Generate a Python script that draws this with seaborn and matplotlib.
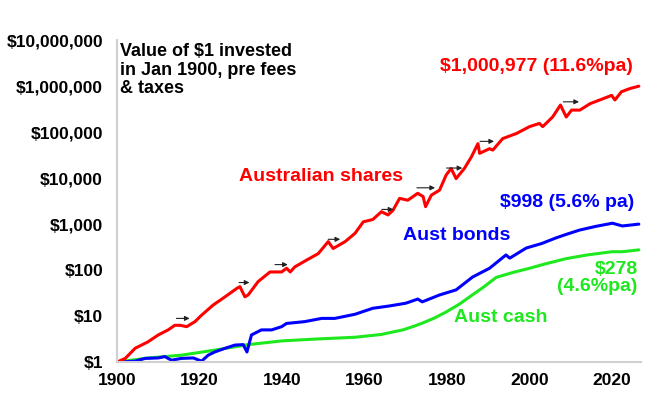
import numpy as np
import pandas as pd
import matplotlib
matplotlib.use('Agg')
import matplotlib.pyplot as plt
import matplotlib.ticker as mticker
import seaborn as sns

# Growth of $1 invested in Jan 1900 (log10 of $)
share_years = [1900, 1902, 1904.4, 1907.5, 1910, 1912.4, 1914, 1915.3, 1916.9, 1918.9,
               1920.5, 1923.3, 1926.2, 1929, 1929.8, 1931, 1931.8, 1934.2, 1937.1, 1939.9,
               1941.1, 1942, 1943.1, 1946, 1948.8, 1951.2, 1952.4, 1955.3, 1957.7, 1959.7,
               1962, 1964.1, 1965.7, 1966.9, 1968.5, 1970.5, 1972.9, 1974.2, 1974.8, 1976.2,
               1978.2, 1979.8, 1981, 1982.2, 1984.2, 1985.9, 1987.5, 1987.9, 1990.3, 1991.1,
               1993.5, 1996.8, 2000, 2002.4, 2003.2, 2005.6, 2007.5, 2008.9, 2010.2, 2012.2,
               2014.7, 2017.9, 2019.9, 2020.7, 2022.3, 2024.4, 2026.5]
share_log = [0.0, 0.08, 0.30, 0.44, 0.59, 0.70, 0.80, 0.80, 0.77, 0.88,
             1.02, 1.24, 1.42, 1.60, 1.64, 1.42, 1.46, 1.75, 1.96, 1.96,
             2.04, 1.96, 2.07, 2.22, 2.36, 2.62, 2.47, 2.62, 2.80, 3.05,
             3.10, 3.27, 3.20, 3.30, 3.56, 3.52, 3.67, 3.60, 3.38, 3.63,
             3.74, 4.07, 4.21, 3.99, 4.21, 4.46, 4.75, 4.54, 4.64, 4.61,
             4.86, 4.97, 5.12, 5.19, 5.12, 5.33, 5.59, 5.33, 5.48, 5.48,
             5.62, 5.73, 5.80, 5.70, 5.88, 5.95, 6.00]

bond_years = [1900, 1904.4, 1906.8, 1910, 1911.6, 1913.2, 1915.6, 1918.5, 1920.5, 1922.1,
              1923.7, 1926.2, 1928.6, 1930.6, 1931.5, 1932.6, 1935, 1937.5, 1939.9, 1941.1,
              1945.5, 1949.6, 1952.8, 1957.7, 1962, 1966, 1970, 1972.9, 1974, 1978.2,
              1982.2, 1986.2, 1990.3, 1994.3, 1995.2, 1999.2, 2003, 2006.4, 2009, 2012.1,
              2016, 2020.1, 2022.5, 2026.5]
bond_log = [0.0, 0.02, 0.08, 0.09, 0.12, 0.04, 0.08, 0.09, 0.02, 0.15,
            0.22, 0.30, 0.37, 0.38, 0.22, 0.59, 0.70, 0.70, 0.77, 0.84,
            0.88, 0.95, 0.95, 1.04, 1.17, 1.22, 1.28, 1.37, 1.31, 1.46,
            1.57, 1.85, 2.04, 2.33, 2.26, 2.48, 2.58, 2.70, 2.78, 2.87,
            2.95, 3.02, 2.96, 3.00]

cash_years = [1900, 1907.6, 1915.6, 1923.7, 1931.8, 1939.9, 1948, 1957.7, 1964, 1969.3,
              1972, 1974.1, 1977, 1979.8, 1983, 1985.5, 1989, 1991.9, 1996, 2000,
              2004, 2008.9, 2014, 2020, 2022.5, 2026.5]
cash_log = [0.0, 0.09, 0.15, 0.26, 0.38, 0.46, 0.50, 0.54, 0.60, 0.70,
            0.78, 0.85, 0.96, 1.09, 1.26, 1.42, 1.64, 1.84, 1.95, 2.04,
            2.14, 2.25, 2.33, 2.40, 2.40, 2.44]

# little arrows along the shares line: start year, end year, log10 level
arrow_start = [1914.4, 1929.6, 1938.3, 1951.2, 1964.2, 1972.7, 1979.9, 1988.0, 2008.2]
arrow_end = [1917.6, 1932.1, 1941.4, 1954.1, 1967.0, 1977.1, 1983.7, 1991.4, 2012.0]
arrow_level = [0.95, 1.73, 2.12, 2.67, 3.32, 3.79, 4.22, 4.80, 5.66]

y_ticks = [1, 10, 100, 1000, 10000, 100000, 1000000, 10000000]
x_ticks = [1900, 1920, 1940, 1960, 1980, 2000, 2020]

RED = '#ff0000'
BLUE = '#0000ff'
GREEN = '#1ee81e'

shares = pd.DataFrame({'year': share_years, 'value': np.power(10, share_log)})
bonds = pd.DataFrame({'year': bond_years, 'value': np.power(10, bond_log)})
cash = pd.DataFrame({'year': cash_years, 'value': np.power(10, cash_log)})

sns.set_style('white')
plt.rcParams['font.family'] = ['Liberation Sans', 'DejaVu Sans']
plt.rcParams['font.weight'] = 'bold'

fig = plt.figure(figsize=(6.5, 3.94), dpi=100)
ax = fig.add_axes([0.18, 0.081, 0.806, 0.817])

sns.lineplot(data=cash, x='year', y='value', color=GREEN, lw=2.2, ax=ax)
sns.lineplot(data=bonds, x='year', y='value', color=BLUE, lw=2.2, ax=ax)
sns.lineplot(data=shares, x='year', y='value', color=RED, lw=2.2, ax=ax)

for x0, x1, lv in zip(arrow_start, arrow_end, arrow_level):
    ax.annotate('', xy=(x1, 10 ** lv), xytext=(x0, 10 ** lv),
                arrowprops=dict(arrowstyle='-|>', color='#202020', lw=0.8,
                                mutation_scale=7, shrinkA=0, shrinkB=0))

ax.set_yscale('log')
ax.set_ylim(1, 1e7)
ax.set_xlim(1900, 2027)
ax.set_yticks(y_ticks)
ax.yaxis.set_minor_locator(mticker.NullLocator())
ax.yaxis.set_major_formatter(mticker.FuncFormatter(lambda v, p: '${:,.0f}'.format(v)))
ax.set_xticks(x_ticks)
ax.set_xlabel('')
ax.set_ylabel('')
ax.tick_params(axis='both', labelsize=12.5, colors='black', direction='out')
ax.tick_params(axis='y', length=4, width=1, color='#d0d0d0', pad=6)
ax.tick_params(axis='x', length=4, width=1, color='#d0d0d0', pad=4)
for lab in ax.get_xticklabels() + ax.get_yticklabels():
    lab.set_fontweight('bold')

for side in ['top', 'right']:
    ax.spines[side].set_visible(False)
for side in ['left', 'bottom']:
    ax.spines[side].set_color('#d0d0d0')
    ax.spines[side].set_linewidth(1.5)

ax.text(0.005, 0.99, 'Value of $1 invested\nin Jan 1900, pre fees\n& taxes', transform=ax.transAxes,
        ha='left', va='top', fontsize=13, fontweight='bold', color='black', linespacing=1.1)
ax.text(0.80, 0.918, '$1,000,977 (11.6%pa)', transform=ax.transAxes, ha='center', va='center',
        fontsize=14, fontweight='bold', color=RED)
ax.text(0.39, 0.575, 'Australian shares', transform=ax.transAxes, ha='center', va='center',
        fontsize=14, fontweight='bold', color=RED)
ax.text(0.86, 0.495, '$998 (5.6% pa)', transform=ax.transAxes, ha='center', va='center',
        fontsize=14, fontweight='bold', color=BLUE)
ax.text(0.649, 0.394, 'Aust bonds', transform=ax.transAxes, ha='center', va='center',
        fontsize=14, fontweight='bold', color=BLUE)
ax.text(0.994, 0.26, '$278\n(4.6%pa)', transform=ax.transAxes, ha='right', va='center',
        fontsize=14, fontweight='bold', color=GREEN, linespacing=1.0)
ax.text(0.733, 0.137, 'Aust cash', transform=ax.transAxes, ha='center', va='center',
        fontsize=14, fontweight='bold', color=GREEN)

fig.savefig('out.png', dpi=100)
